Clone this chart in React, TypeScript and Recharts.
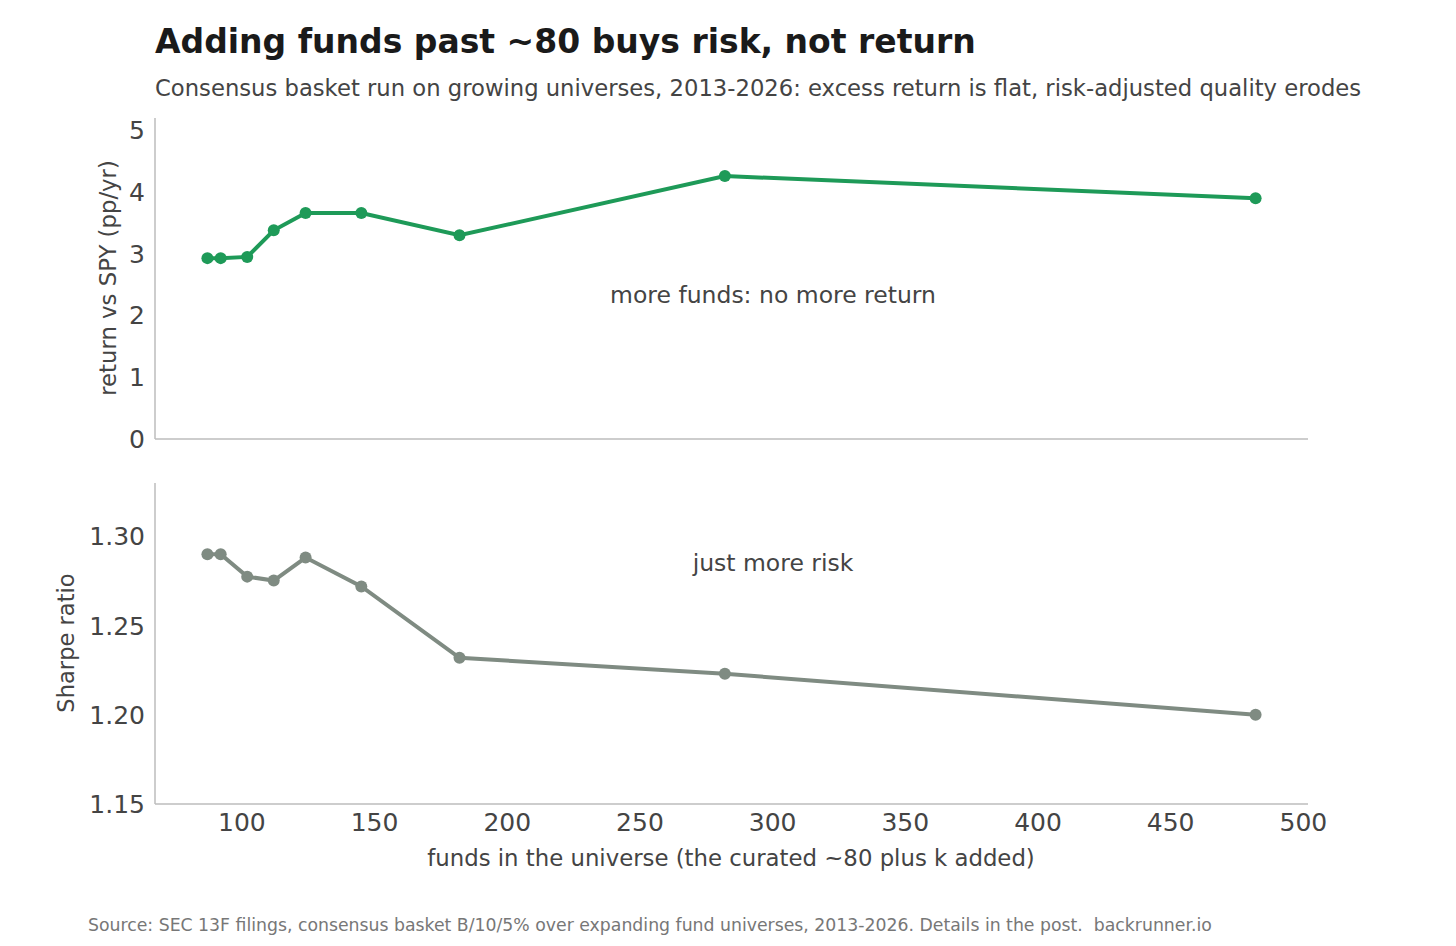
import React from "react";
import { LineChart, Line, XAxis, YAxis } from "recharts";

const funds = [87, 92, 102, 112, 124, 145, 182, 282, 482];
const excessReturn = [2.93, 2.93, 2.95, 3.38, 3.66, 3.66, 3.3, 4.26, 3.9];
const sharpe = [1.29, 1.29, 1.2775, 1.2753, 1.2882, 1.272, 1.232, 1.223, 1.2];

const xTicks = [100, 150, 200, 250, 300, 350, 400, 450, 500];
const returnTicks = [0, 1, 2, 3, 4, 5];
const sharpeTicks = [1.15, 1.2, 1.25, 1.3];

const FONT = "'DejaVu Sans', sans-serif";
const AXIS_GREY = "#bdbdbd";
const TEXT = "#444444";
const GREEN = "#1e9a58";
const GREY = "#7f8b82";

const data = funds.map((n, i) => ({
  n,
  ret: excessReturn[i],
  sharpe: sharpe[i],
}));

const tickStyle = { fontSize: 25, fill: TEXT, fontFamily: FONT };

function Label({
  text,
  left,
  top,
  size,
  color = TEXT,
  weight = 400,
  center = false,
  rotate = false,
}: {
  text: string;
  left: number;
  top: number;
  size: number;
  color?: string;
  weight?: number;
  center?: boolean;
  rotate?: boolean;
}) {
  let transform = "translateY(-50%)";
  if (center) transform = "translate(-50%, -50%)";
  if (rotate) transform = "translate(-50%, -50%) rotate(-90deg)";
  return (
    <div
      style={{
        position: "absolute",
        left,
        top,
        fontSize: size,
        fontWeight: weight,
        color,
        lineHeight: 1,
        whiteSpace: "pre",
        transform,
      }}
    >
      {text}
    </div>
  );
}

export default function App() {
  return (
    <div
      style={{
        position: "absolute",
        top: 0,
        left: 0,
        width: 1456,
        height: 946,
        background: "#ffffff",
        fontFamily: FONT,
        overflow: "hidden",
      }}
    >
      <Label
        text="Adding funds past ~80 buys risk, not return"
        left={155}
        top={41}
        size={33}
        weight={700}
        color="#1a1a1a"
      />
      <Label
        text="Consensus basket run on growing universes, 2013-2026: excess return is flat, risk-adjusted quality erodes"
        left={155}
        top={88}
        size={22.7}
      />

      {/* top panel: excess return */}
      <div style={{ position: "absolute", top: 0, left: 0 }}>
        <LineChart
          width={1456}
          height={460}
          data={data}
          margin={{ top: 118, right: 148, bottom: 20, left: 95 }}
        >
          <XAxis
            dataKey="n"
            type="number"
            domain={[67.25, 501.75]}
            ticks={xTicks}
            allowDataOverflow
            tick={false}
            tickLine={false}
            height={1}
            axisLine={{ stroke: AXIS_GREY, strokeWidth: 1.5 }}
          />
          <YAxis
            width={60}
            domain={[0, 5.2]}
            ticks={returnTicks}
            allowDataOverflow
            tickLine={false}
            tickMargin={4}
            tick={tickStyle}
            axisLine={{ stroke: AXIS_GREY, strokeWidth: 1.5 }}
          />
          <Line
            dataKey="ret"
            stroke={GREEN}
            strokeWidth={4}
            dot={{ r: 6, fill: GREEN, stroke: GREEN, strokeWidth: 0 }}
            isAnimationActive={false}
          />
        </LineChart>
      </div>

      {/* bottom panel: Sharpe ratio */}
      <div style={{ position: "absolute", top: 460, left: 0 }}>
        <LineChart
          width={1456}
          height={420}
          data={data}
          margin={{ top: 23, right: 148, bottom: 36, left: 75 }}
        >
          <XAxis
            dataKey="n"
            type="number"
            domain={[67.25, 501.75]}
            ticks={xTicks}
            allowDataOverflow
            tickLine={false}
            tickMargin={3}
            height={40}
            tick={tickStyle}
            axisLine={{ stroke: AXIS_GREY, strokeWidth: 1.5 }}
          />
          <YAxis
            width={80}
            domain={[1.15, 1.33]}
            ticks={sharpeTicks}
            allowDataOverflow
            tickLine={false}
            tickMargin={4}
            tick={tickStyle}
            tickFormatter={(v: number) => v.toFixed(2)}
            axisLine={{ stroke: AXIS_GREY, strokeWidth: 1.5 }}
          />
          <Line
            dataKey="sharpe"
            stroke={GREY}
            strokeWidth={4}
            dot={{ r: 6, fill: GREY, stroke: GREY, strokeWidth: 0 }}
            isAnimationActive={false}
          />
        </LineChart>
      </div>

      <Label text="return vs SPY (pp/yr)" left={108} top={278} size={22.8} rotate />
      <Label text="Sharpe ratio" left={66} top={643} size={22.6} rotate />
      <Label text="more funds: no more return" left={773} top={296} size={23.5} center />
      <Label text="just more risk" left={773} top={564} size={23.5} center />
      <Label
        text="funds in the universe (the curated ~80 plus k added)"
        left={731}
        top={858}
        size={22.8}
        center
      />
      <Label
        text="Source: SEC 13F filings, consensus basket B/10/5% over expanding fund universes, 2013-2026. Details in the post.  backrunner.io"
        left={88}
        top={926}
        size={17.3}
        color="#777777"
      />
    </div>
  );
}
